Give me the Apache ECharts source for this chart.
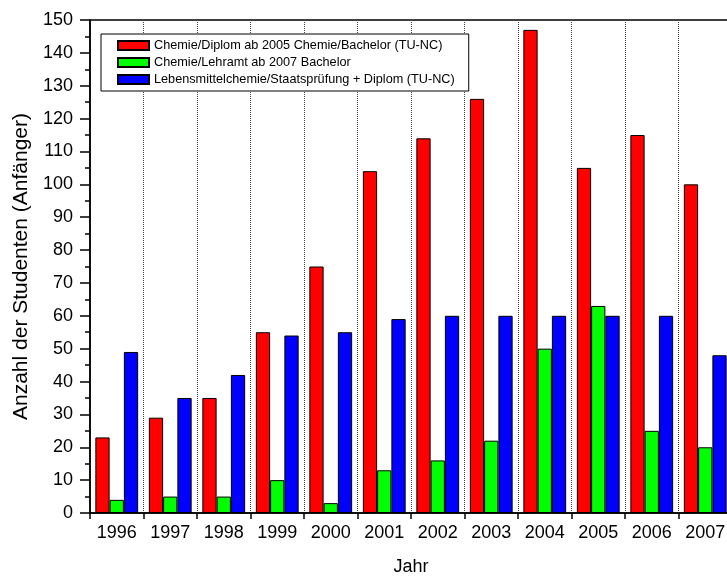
<!DOCTYPE html>
<html>
<head>
<meta charset="utf-8">
<script src="https://cdn.jsdelivr.net/npm/echarts@6/dist/echarts.min.js"></script>
<style>
  html, body { margin: 0; padding: 0; background: #fff; }
  #chart { width: 727px; height: 576px; }
</style>
</head>
<body>
<div id="chart"></div>
<script>
const years = ['1996', '1997', '1998', '1999', '2000', '2001', '2002', '2003', '2004', '2005', '2006', '2007']
const diplom = [23, 29, 35, 55, 75, 104, 114, 126, 147, 105, 115, 100]
const lehramt = [4, 5, 5, 10, 3, 13, 16, 22, 50, 63, 25, 20]
const lebensmittel = [49, 35, 42, 54, 55, 59, 60, 60, 60, 60, 60, 48]

const seriesNames = [
  'Chemie/Diplom ab 2005 Chemie/Bachelor (TU-NC)',
  'Chemie/Lehramt ab 2007 Bachelor',
  'Lebensmittelchemie/Staatsprüfung + Diplom (TU-NC)'
]
const colors = ['#ff0000', '#00ff00', '#0000ff']
const font = 'Liberation Sans, Arial, sans-serif'

const makeBar = (name, data, color) => ({
  name: name,
  type: 'bar',
  data: data,
  barGap: 0,
  barCategoryGap: '20%',
  itemStyle: { color: color, borderColor: '#000', borderWidth: 1 }
})

const option = {
  animation: false,
  textStyle: { fontFamily: font },
  grid: {
    left: 90, right: -5, top: 20, bottom: 63,
    outerBoundsMode: 'none',
    containLabel: false,
    show: true, borderColor: '#000', borderWidth: 1.5
  },
  legend: {
    orient: 'vertical',
    left: 101,
    top: 34,
    padding: [5, 14, 5, 16],
    backgroundColor: '#fff',
    borderColor: '#000',
    borderWidth: 1,
    borderRadius: 0,
    icon: 'rect',
    itemWidth: 31,
    itemHeight: 9,
    itemGap: 4,
    textStyle: { color: '#000', fontSize: 12.7, lineHeight: 12, fontFamily: font }
  },
  xAxis: {
    type: 'category',
    data: years,
    name: 'Jahr',
    nameLocation: 'middle',
    nameGap: 45,
    nameTextStyle: { color: '#000', fontSize: 18, verticalAlign: 'top' },
    axisLine: { lineStyle: { color: '#000', width: 1.5 } },
    axisTick: { show: true, length: 6, lineStyle: { color: '#000', width: 1.5 } },
    axisLabel: { color: '#000', fontSize: 18, margin: 11, interval: 0 },
    splitLine: { show: true, interval: 0, lineStyle: { color: '#444', type: 'dotted', width: 1 } }
  },
  yAxis: {
    type: 'value',
    min: 0,
    max: 150,
    interval: 10,
    name: 'Anzahl der Studenten (Anfänger)',
    nameLocation: 'middle',
    nameGap: 57,
    nameTextStyle: { color: '#000', fontSize: 21 },
    axisLine: { show: true, lineStyle: { color: '#000', width: 1.5 } },
    axisTick: { show: true, length: 10, lineStyle: { color: '#000', width: 1.5 } },
    minorTick: { show: true, splitNumber: 2, length: 5, lineStyle: { color: '#000', width: 1.5 } },
    axisLabel: { color: '#000', fontSize: 18, margin: 17 },
    splitLine: { show: false }
  },
  series: [
    makeBar(seriesNames[0], diplom, colors[0]),
    makeBar(seriesNames[1], lehramt, colors[1]),
    makeBar(seriesNames[2], lebensmittel, colors[2])
  ]
}

const chart = echarts.init(document.getElementById('chart'))
chart.setOption(option)
</script>
</body>
</html>
